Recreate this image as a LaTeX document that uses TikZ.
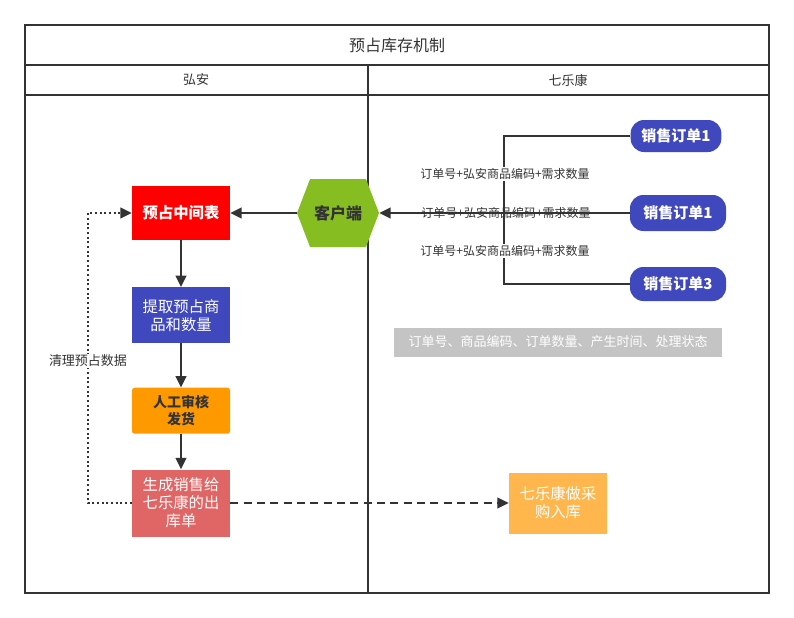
\documentclass[tikz,border=0pt]{standalone}
\usepackage{fontspec}
\setmainfont{Noto Sans CJK SC}
\usetikzlibrary{arrows.meta,positioning,shapes.symbols}
\definecolor{cink}{HTML}{333333}
\definecolor{cred}{HTML}{FF0000}
\definecolor{cgreen}{HTML}{86BE22}
\definecolor{cblue}{HTML}{3F48BC}
\definecolor{corange}{HTML}{FF9900}
\definecolor{csalmon}{HTML}{E06666}
\definecolor{clight}{HTML}{FFB74D}
\definecolor{cgrey}{HTML}{C4C4C4}

\begin{document}
\begin{tikzpicture}[x=0.75pt, y=-0.75pt,
    frame/.style={draw=cink, line width=1.5pt},
    box/.style={minimum width=73.5pt, inner sep=1pt, align=center, text=white,
                font=\fontsize{11.5}{13.5}\selectfont},
    pill/.style={fill=cblue, rounded corners=10pt, text=white, inner sep=1pt,
                 font=\bfseries\fontsize{11.25}{13}\selectfont},
    lab/.style={font=\fontsize{9}{10}\selectfont, text=cink, inner sep=1pt},
    pt/.style={-{Triangle[length=8.5pt, width=8pt]}, cink, line width=1.5pt},
    ln/.style={cink, line width=1.5pt}]
  \useasboundingbox (0,0) rectangle (794,618);

  % swimlanes
  \draw[frame] (25,25) rectangle (769,593);
  \draw[frame] (25,65) -- (769,65);
  \draw[frame] (25,95) -- (769,95);
  \draw[frame] (368,65) -- (368,593);
  \node[text=cink, font=\fontsize{12}{14}\selectfont] (title) at (397,45) {预占库存机制};
  \node[text=cink, font=\fontsize{9.75}{11}\selectfont] (hA) at (196,80) {弘安};
  \node[text=cink, font=\fontsize{9.75}{11}\selectfont] (hB) at (568,80) {七乐康};

  % left lane
  \node[box, fill=cred, minimum height=40.5pt, font=\bfseries\fontsize{11.5}{13.5}\selectfont]
       (mid) at (181,213) {预占中间表};
  \node[box, fill=cblue, minimum height=42pt, below=35pt of mid] (pick) {提取预占商\\品和数量};
  \node[box, fill=corange, minimum height=34.5pt, rounded corners=2pt, text=cink,
        font=\bfseries\fontsize{10.5}{12.75}\selectfont, below=33pt of pick] (chk) {人工审核\\发货};
  \node[box, fill=csalmon, minimum height=50.25pt] (out) at (181,503) {生成销售给\\七乐康的出\\库单};

  % client
  \node[signal, signal to=east and west, signal pointer angle=138, fill=cgreen,
        minimum width=61.5pt, minimum height=51pt, inner sep=0pt, text=cink,
        font=\bfseries\fontsize{12}{14}\selectfont] (cli) at (338,213) {客户端};

  % right lane
  \node[pill, minimum width=68pt, minimum height=24pt] (o1) at (676,136) {销售订单1};
  \node[pill, minimum width=72pt, minimum height=27pt] (o2) at (678,213) {销售订单1};
  \node[pill, minimum width=72pt, minimum height=25.5pt] (o3) at (678,284) {销售订单3};
  \node[fill=cgrey, text=white, minimum width=246pt, minimum height=21.75pt, inner sep=1pt,
        font=\fontsize{9.75}{11}\selectfont] (fld) at (558,342)
       {订单号、商品编码、订单数量、产生时间、处理状态};
  \node[box, fill=clight, minimum height=45.75pt] (buy) at (558,503) {七乐康做采\\购入库};

  \coordinate (jn) at (504,213);
  \draw[ln] (o1.west) -| (jn);
  \draw[ln] (o3.west) -| (jn);
  \draw[pt] (o2.west) -- (cli.east);
  \node[lab, fill=white] (l1) at (505,174) {订单号+弘安商品编码+需求数量};
  \node[lab] (l2) at (506,213) {订单号+弘安商品编码+需求数量};
  \node[lab, fill=white] (l3) at (505,251) {订单号+弘安商品编码+需求数量};

  % flow
  \draw[pt] (cli.west) -- (mid.east);
  \draw[pt] (mid) -- (pick);
  \draw[pt] (pick) -- (chk);
  \draw[pt] (chk) -- (out);
  \coordinate (lx) at (88,0);
  \draw[pt, dotted] (out.west) -- (out.west -| lx) |- node[pos=0.245, fill=white, text=cink,
        inner sep=1pt, font=\fontsize{9.75}{11}\selectfont] (clr) {清理预占数据} (mid.west);
  \draw[pt, dash pattern=on 6pt off 4pt] (out.east) -- (out.east -| buy.west);
\end{tikzpicture}
\end{document}
